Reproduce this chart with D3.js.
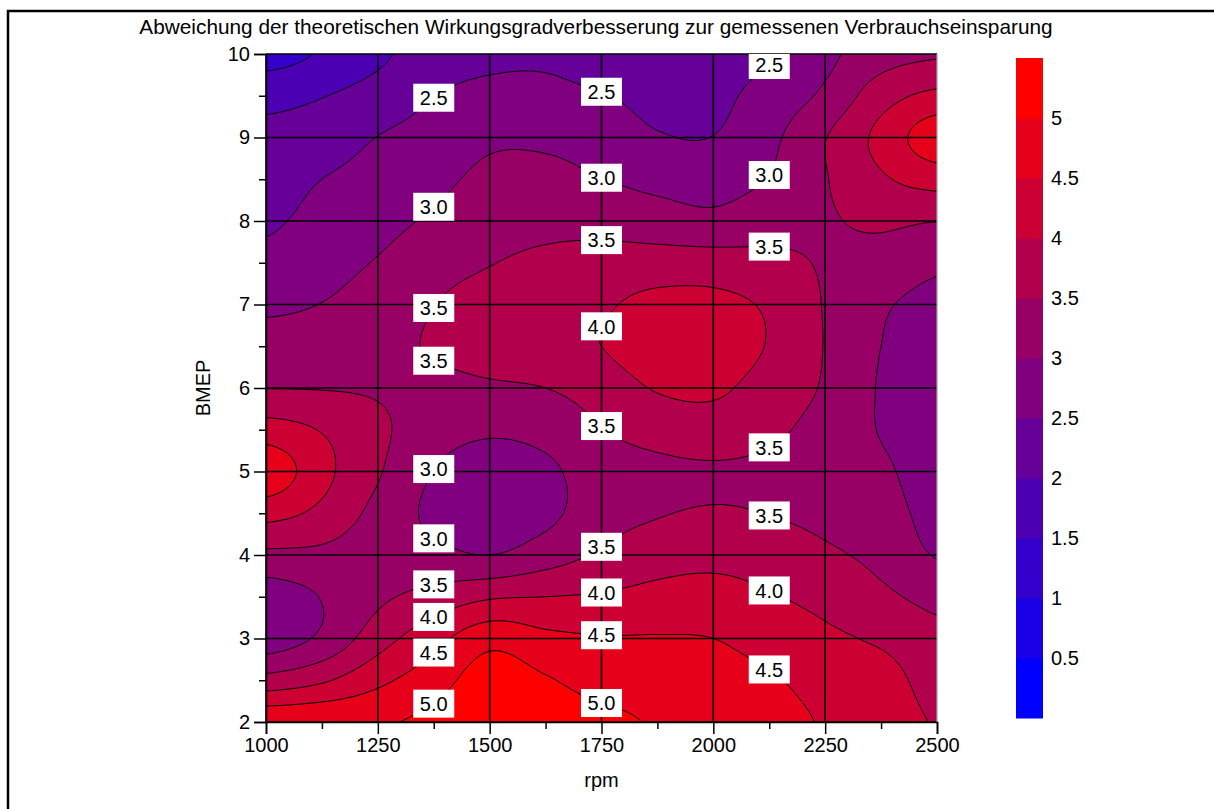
<!DOCTYPE html>
<html>
<head>
<meta charset="utf-8">
<script src="https://cdn.jsdelivr.net/npm/d3@7"></script>
<style>
  body { margin: 0; background: #fff; }
  svg { display: block; }
  text { font-family: "Liberation Sans", Arial, sans-serif; fill: #000; }
</style>
</head>
<body>
<svg id="chart" width="1214" height="809"></svg>
<script>
// Engine speed (columns) and load (rows) of the measurement grid
const rpm = [1000, 1125, 1250, 1375, 1500, 1625, 1750, 1875, 2000, 2125, 2250, 2375, 2500];
const bmep = [2, 2.5, 3, 3.5, 4, 4.5, 5, 5.5, 6, 6.5, 7, 7.5, 8, 8.5, 9, 9.5, 10];

// Deviation values, one row per BMEP level (bottom to top), one entry per rpm column
const deviation = [
  [4.88, 4.92, 4.95, 5.12, 5.45, 5.35, 5.15, 4.95, 4.85, 4.72, 4.45, 4.25, 3.97],
  [3.68, 3.93, 4.38, 4.78, 5.25, 5.05, 4.78, 4.75, 4.70, 4.56, 4.30, 4.20, 3.80],
  [2.72, 3.10, 3.78, 4.33, 4.83, 4.62, 4.53, 4.53, 4.50, 4.30, 4.10, 3.92, 3.63],
  [2.75, 3.02, 3.40, 3.68, 3.94, 4.00, 4.05, 4.15, 4.18, 4.04, 3.85, 3.60, 3.37],
  [3.39, 3.38, 3.22, 3.13, 3.00, 3.26, 3.57, 3.79, 3.86, 3.77, 3.58, 3.37, 2.97],
  [4.17, 3.87, 3.35, 2.90, 2.75, 2.88, 3.30, 3.47, 3.54, 3.49, 3.38, 3.22, 2.82],
  [4.85, 4.15, 3.55, 2.99, 2.78, 2.90, 3.27, 3.40, 3.45, 3.42, 3.32, 3.10, 2.72],
  [4.22, 3.97, 3.60, 3.22, 3.07, 3.17, 3.48, 3.68, 3.75, 3.58, 3.35, 2.97, 2.68],
  [3.49, 3.48, 3.45, 3.38, 3.43, 3.50, 3.72, 4.04, 4.10, 3.75, 3.45, 2.96, 2.70],
  [3.20, 3.25, 3.38, 3.54, 3.70, 3.82, 4.00, 4.30, 4.35, 3.96, 3.48, 3.00, 2.78],
  [2.91, 3.01, 3.20, 3.49, 3.70, 3.76, 3.93, 4.15, 4.15, 3.92, 3.47, 3.07, 2.85],
  [2.64, 2.84, 3.03, 3.29, 3.48, 3.60, 3.68, 3.72, 3.72, 3.62, 3.46, 3.32, 3.10],
  [2.42, 2.67, 2.85, 3.07, 3.30, 3.36, 3.34, 3.23, 3.13, 3.31, 3.45, 3.58, 3.51],
  [2.25, 2.50, 2.68, 2.87, 3.12, 3.14, 3.01, 2.86, 2.80, 3.02, 3.47, 3.93, 4.20],
  [2.12, 2.24, 2.51, 2.68, 2.91, 2.91, 2.78, 2.54, 2.51, 2.88, 3.48, 4.15, 4.80],
  [1.85, 1.98, 2.21, 2.49, 2.65, 2.66, 2.53, 2.35, 2.38, 2.70, 3.10, 3.78, 4.12],
  [1.30, 1.55, 1.90, 2.25, 2.38, 2.40, 2.20, 2.20, 2.30, 2.45, 2.87, 3.30, 3.45]
];

const bandStarts = [0, 0.5, 1, 1.5, 2, 2.5, 3, 3.5, 4, 4.5, 5];
const lineLevels = [0.5, 1, 1.5, 2, 2.5, 3, 3.5, 4, 4.5, 5];
const labelColumns = [1375, 1750, 2125];
const xTicks = [1000, 1250, 1500, 1750, 2000, 2250, 2500];
const xMinorTicks = [1125, 1375, 1625, 1875, 2125, 2375];
const yTicks = [2, 3, 4, 5, 6, 7, 8, 9, 10];
const yMinorTicks = [2.5, 3.5, 4.5, 5.5, 6.5, 7.5, 8.5, 9.5];
const colorbarTicks = [0.5, 1, 1.5, 2, 2.5, 3, 3.5, 4, 4.5, 5];

const titleText = "Abweichung der theoretischen Wirkungsgradverbesserung zur gemessenen Verbrauchseinsparung";

const svg = d3.select("#chart");
const plot = { left: 266, right: 937, top: 54, bottom: 722 };
const x = d3.scaleLinear().domain([1000, 2500]).range([plot.left, plot.right]);
const y = d3.scaleLinear().domain([2, 10]).range([plot.bottom, plot.top]);
const bandColor = d3.scaleLinear().domain([0, 5]).range(["#0000ff", "#ff0000"]).interpolate(d3.interpolateRgb);

// ---- smooth surface: Catmull-Rom resampling of the grid for the contour tracer
const nx = rpm.length, ny = bmep.length;
const SX = 20, SY = 16;
const fx = (nx - 1) * SX + 1, fy = (ny - 1) * SY + 1;
const clampI = (v, lo, hi) => Math.max(lo, Math.min(hi, v));
function cr(p0, p1, p2, p3, t) {
  return 0.5 * (2 * p1 + (-p0 + p2) * t + (2 * p0 - 5 * p1 + 4 * p2 - p3) * t * t + (-p0 + 3 * p1 - 3 * p2 + p3) * t * t * t);
}
function surface(gx, gy) {
  const ix = Math.min(Math.floor(gx), nx - 2), tx = gx - ix;
  const iy = Math.min(Math.floor(gy), ny - 2), ty = gy - iy;
  const rowVal = r => {
    const row = deviation[clampI(r, 0, ny - 1)];
    return cr(row[clampI(ix - 1, 0, nx - 1)], row[ix], row[ix + 1], row[clampI(ix + 2, 0, nx - 1)], tx);
  };
  return cr(rowVal(iy - 1), rowVal(iy), rowVal(iy + 1), rowVal(iy + 2), ty);
}
const fine = new Array(fx * fy);
for (let j = 0; j < fy; j++) {
  for (let i = 0; i < fx; i++) {
    fine[j * fx + i] = surface(i / SX, j / SY);
  }
}
const stepX = (rpm[1] - rpm[0]) / SX;
const stepY = (bmep[1] - bmep[0]) / SY;
const toScreen = d3.geoTransform({
  point(gx, gy) {
    this.stream.point(x(rpm[0] + (gx - 0.5) * stepX), y(bmep[0] + (gy - 0.5) * stepY));
  }
});
const path = d3.geoPath(toScreen);
const contours = d3.contours().size([fx, fy]);

// ---- clip
const defs = svg.append("defs");
defs.append("clipPath").attr("id", "plotClip")
  .append("rect").attr("x", plot.left).attr("y", plot.top)
  .attr("width", plot.right - plot.left).attr("height", plot.bottom - plot.top);

const gPlot = svg.append("g").attr("clip-path", "url(#plotClip)");

// filled bands
gPlot.append("g").selectAll("path")
  .data(contours.thresholds(bandStarts)(fine))
  .join("path")
  .attr("d", path)
  .attr("fill", d => bandColor(d.value))
  .attr("stroke", "none");

// iso lines
gPlot.append("g").selectAll("path")
  .data(contours.thresholds(lineLevels)(fine))
  .join("path")
  .attr("d", path)
  .attr("fill", "none")
  .attr("stroke", "#000")
  .attr("stroke-width", 1);

// grid
const gGrid = svg.append("g");
gGrid.selectAll("line.v").data(xTicks.slice(0, -1)).join("line").attr("class", "v")
  .attr("x1", d => x(d)).attr("x2", d => x(d)).attr("y1", plot.top).attr("y2", plot.bottom)
  .attr("stroke", "#000").attr("stroke-width", 1.6);
gGrid.selectAll("line.h").data(yTicks).join("line").attr("class", "h")
  .attr("x1", plot.left).attr("x2", plot.right).attr("y1", d => y(d)).attr("y2", d => y(d))
  .attr("stroke", "#000").attr("stroke-width", 1.6);
gGrid.append("line")
  .attr("x1", x(2500)).attr("x2", x(2500)).attr("y1", plot.top).attr("y2", plot.bottom)
  .attr("stroke", "#a0a0a0").attr("stroke-width", 1.2);

// contour labels along fixed rpm columns (drawn above the grid)
const labels = [];
labelColumns.forEach(c => {
  const i = Math.round((c - rpm[0]) / stepX);
  lineLevels.forEach(L => {
    const hits = [];
    for (let j = 0; j < fy - 1; j++) {
      const a = fine[j * fx + i], b = fine[(j + 1) * fx + i];
      if ((a - L) * (b - L) < 0) hits.push(bmep[0] + (j + (L - a) / (b - a)) * stepY);
    }
    const merged = [];
    hits.forEach(h => {
      const last = merged[merged.length - 1];
      if (last && Math.abs(y(h) - y(last.v)) < 36) { last.v = (last.v + h) / 2; }
      else merged.push({ v: h });
    });
    merged.forEach(m => labels.push({ level: L, rpm: c, bmep: m.v }));
  });
});
const gLab = svg.append("g").attr("clip-path", "url(#plotClip)");
const lab = gLab.selectAll("g").data(labels).join("g")
  .attr("transform", d => `translate(${x(d.rpm)},${y(d.bmep)})`);
lab.append("rect").attr("x", -20.5).attr("y", -14).attr("width", 41).attr("height", 28).attr("fill", "#fff");
lab.append("text").attr("text-anchor", "middle").attr("dy", "0.36em")
  .style("font-size", "20px").text(d => d.level.toFixed(1));

// axes
const axisFont = "20px";
svg.append("g").attr("transform", `translate(0,${plot.bottom})`)
  .call(d3.axisBottom(x).tickValues(xTicks).tickSize(12).tickPadding(4).tickFormat(d3.format("d")));
svg.append("g").attr("transform", `translate(0,${plot.bottom})`)
  .call(d3.axisBottom(x).tickValues(xMinorTicks).tickSize(7).tickFormat(""))
  .call(g => g.select(".domain").remove());
svg.append("g").attr("transform", `translate(${plot.left},0)`)
  .call(d3.axisLeft(y).tickValues(yTicks).tickSize(12).tickPadding(4).tickFormat(d3.format("d")));
svg.append("g").attr("transform", `translate(${plot.left},0)`)
  .call(d3.axisLeft(y).tickValues(yMinorTicks).tickSize(7).tickFormat(""))
  .call(g => g.select(".domain").remove());
svg.selectAll(".tick line").attr("stroke", "#000").attr("stroke-width", 1.5);
svg.selectAll(".domain").attr("stroke", "#000").attr("stroke-width", 1.6);
svg.selectAll(".tick text").style("font-size", axisFont).attr("fill", "#000")
  .style("font-family", '"Liberation Sans", Arial, sans-serif');

// axis titles
svg.append("text").attr("x", (plot.left + plot.right) / 2).attr("y", 787)
  .attr("text-anchor", "middle").style("font-size", "20px").text("rpm");
svg.append("text").attr("transform", `translate(210,${(plot.top + plot.bottom) / 2}) rotate(-90)`)
  .attr("text-anchor", "middle").style("font-size", "20px").text("BMEP");

// title
svg.append("text").attr("x", 596).attr("y", 34)
  .attr("text-anchor", "middle").style("font-size", "20.8px").text(titleText);

// colour bar
const cb = { x: 1016, w: 27, top: 58, bottom: 718 };
const cy = d3.scaleLinear().domain([0, 5.5]).range([cb.bottom, cb.top]);
svg.append("g").selectAll("rect").data(bandStarts).join("rect")
  .attr("x", cb.x).attr("width", cb.w)
  .attr("y", d => cy(d + 0.5)).attr("height", d => cy(d) - cy(d + 0.5) + 0.5)
  .attr("fill", d => bandColor(d));
svg.append("g").selectAll("text").data(colorbarTicks).join("text")
  .attr("x", 1051).attr("y", d => cy(d)).attr("dy", "0.36em")
  .style("font-size", "20px").text(d => d3.format("~g")(d));

// outer frame (top and left edges)
svg.append("path").attr("d", "M8,809 V11 H1214").attr("fill", "none")
  .attr("stroke", "#000").attr("stroke-width", 2.5);
</script>
</body>
</html>
